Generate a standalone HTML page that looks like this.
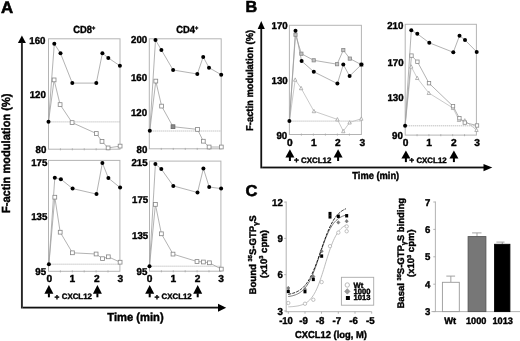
<!DOCTYPE html>
<html><head><meta charset="utf-8"><style>
html,body{margin:0;padding:0;background:#fff;}
svg{display:block;will-change:transform;}
text{font-family:"Liberation Sans", sans-serif;font-weight:bold;fill:#000;stroke:#000;stroke-width:0.4px;text-rendering:geometricPrecision;}
</style></head><body>
<svg width="520" height="341" viewBox="0 0 520 341">
<rect width="520" height="341" fill="#fff"/>
<text transform="translate(0.90,12.55) scale(1.02,1.01)" font-size="16.5" text-anchor="start" style="stroke-width:0.6px">A</text>
<text transform="translate(9.90,153.25) rotate(-90) scale(1.0,1.06)" font-size="11.1" text-anchor="middle">F-actin modulation (%)</text>
<polygon points="21.9,35.4 17.9,42.9 25.9,42.9" fill="#000"/>
<rect x="20.95" y="42.50" width="1.90" height="266.00" fill="#262626" stroke="none" stroke-width="1"/>
<rect x="22.85" y="306.70" width="196.15" height="1.80" fill="#111" stroke="none" stroke-width="1"/>
<polygon points="226.2,307.7 218.0,303.7 218.0,311.7" fill="#000"/>
<text transform="translate(107.30,320.60) scale(1.0,1.04)" font-size="11.2" text-anchor="start" >Time (min)</text>
<line x1="48.50" y1="121.90" x2="120.00" y2="121.90" stroke="#a8a8a8" stroke-width="0.9" stroke-dasharray="1.1,0.9"/>
<rect x="48.50" y="38.80" width="71.50" height="110.40" fill="none" stroke="#b4b4b4" stroke-width="1"/>
<line x1="60.42" y1="148.30" x2="60.42" y2="150.30" stroke="#aaa" stroke-width="0.9" />
<line x1="72.33" y1="148.30" x2="72.33" y2="150.30" stroke="#aaa" stroke-width="0.9" />
<line x1="84.25" y1="148.30" x2="84.25" y2="150.30" stroke="#aaa" stroke-width="0.9" />
<line x1="96.17" y1="148.30" x2="96.17" y2="150.30" stroke="#aaa" stroke-width="0.9" />
<line x1="108.08" y1="148.30" x2="108.08" y2="150.30" stroke="#aaa" stroke-width="0.9" />
<text transform="translate(45.50,43.74) scale(0.97,1.0)" font-size="10.0" text-anchor="end" >160</text>
<text transform="translate(45.90,98.44) scale(0.97,1.0)" font-size="10.0" text-anchor="end" >120</text>
<text transform="translate(46.30,153.04) scale(0.97,1.0)" font-size="10.0" text-anchor="end" >80</text>
<polyline points="48.50,121.70 54.10,79.90 60.10,104.60 72.10,122.60 96.30,133.50 102.00,141.40 108.10,147.90 120.10,146.10" fill="none" stroke="#a0a0a0" stroke-width="0.8" stroke-linejoin="round" />
<polyline points="48.50,121.70 54.30,43.80 60.50,53.30 72.30,83.10 96.30,83.10 102.40,53.20 108.30,57.90 119.90,65.80" fill="none" stroke="#a0a0a0" stroke-width="0.8" stroke-linejoin="round" />
<rect x="52.20" y="78.00" width="3.8" height="3.8" fill="#fff" stroke="#858585" stroke-width="0.8"/>
<rect x="58.20" y="102.70" width="3.8" height="3.8" fill="#fff" stroke="#858585" stroke-width="0.8"/>
<rect x="70.20" y="120.70" width="3.8" height="3.8" fill="#fff" stroke="#858585" stroke-width="0.8"/>
<rect x="94.40" y="131.60" width="3.8" height="3.8" fill="#fff" stroke="#858585" stroke-width="0.8"/>
<rect x="100.10" y="139.50" width="3.8" height="3.8" fill="#fff" stroke="#858585" stroke-width="0.8"/>
<rect x="106.20" y="146.00" width="3.8" height="3.8" fill="#fff" stroke="#858585" stroke-width="0.8"/>
<rect x="118.20" y="144.20" width="3.8" height="3.8" fill="#fff" stroke="#858585" stroke-width="0.8"/>
<circle cx="48.50" cy="121.70" r="2.0" fill="#000"/>
<circle cx="54.30" cy="43.80" r="2.0" fill="#000"/>
<circle cx="60.50" cy="53.30" r="2.0" fill="#000"/>
<circle cx="72.30" cy="83.10" r="2.0" fill="#000"/>
<circle cx="96.30" cy="83.10" r="2.0" fill="#000"/>
<circle cx="102.40" cy="53.20" r="2.0" fill="#000"/>
<circle cx="108.30" cy="57.90" r="2.0" fill="#000"/>
<circle cx="119.90" cy="65.80" r="2.0" fill="#000"/>
<line x1="149.30" y1="131.00" x2="221.20" y2="131.00" stroke="#a8a8a8" stroke-width="0.9" stroke-dasharray="1.1,0.9"/>
<rect x="149.30" y="38.80" width="71.90" height="110.00" fill="none" stroke="#b4b4b4" stroke-width="1"/>
<line x1="161.28" y1="147.90" x2="161.28" y2="149.90" stroke="#aaa" stroke-width="0.9" />
<line x1="173.27" y1="147.90" x2="173.27" y2="149.90" stroke="#aaa" stroke-width="0.9" />
<line x1="185.25" y1="147.90" x2="185.25" y2="149.90" stroke="#aaa" stroke-width="0.9" />
<line x1="197.23" y1="147.90" x2="197.23" y2="149.90" stroke="#aaa" stroke-width="0.9" />
<line x1="209.22" y1="147.90" x2="209.22" y2="149.90" stroke="#aaa" stroke-width="0.9" />
<text transform="translate(147.20,43.44) scale(0.97,1.0)" font-size="10.0" text-anchor="end" >200</text>
<text transform="translate(147.10,80.64) scale(0.97,1.0)" font-size="10.0" text-anchor="end" >160</text>
<text transform="translate(147.10,116.04) scale(0.97,1.0)" font-size="10.0" text-anchor="end" >120</text>
<text transform="translate(147.40,153.04) scale(0.97,1.0)" font-size="10.0" text-anchor="end" >80</text>
<polyline points="149.80,130.70 155.80,81.10 161.60,106.10 173.00,126.70 197.50,129.40 203.30,141.20 209.10,147.00 221.30,147.00" fill="none" stroke="#a0a0a0" stroke-width="0.8" stroke-linejoin="round" />
<polyline points="149.80,130.70 155.50,40.00 161.40,50.00 173.10,70.00 197.30,74.00 203.20,56.90 209.00,67.70 221.20,74.70" fill="none" stroke="#a0a0a0" stroke-width="0.8" stroke-linejoin="round" />
<rect x="153.90" y="79.20" width="3.8" height="3.8" fill="#fff" stroke="#858585" stroke-width="0.8"/>
<rect x="159.70" y="104.20" width="3.8" height="3.8" fill="#fff" stroke="#858585" stroke-width="0.8"/>
<rect x="171.10" y="124.80" width="3.8" height="3.8" fill="#8a8a8a" stroke="#666" stroke-width="0.8"/>
<rect x="195.60" y="127.50" width="3.8" height="3.8" fill="#fff" stroke="#858585" stroke-width="0.8"/>
<rect x="201.40" y="139.30" width="3.8" height="3.8" fill="#fff" stroke="#858585" stroke-width="0.8"/>
<rect x="207.20" y="145.10" width="3.8" height="3.8" fill="#fff" stroke="#858585" stroke-width="0.8"/>
<rect x="219.40" y="145.10" width="3.8" height="3.8" fill="#fff" stroke="#858585" stroke-width="0.8"/>
<circle cx="149.80" cy="130.70" r="2.0" fill="#000"/>
<circle cx="155.50" cy="40.00" r="2.0" fill="#000"/>
<circle cx="161.40" cy="50.00" r="2.0" fill="#000"/>
<circle cx="173.10" cy="70.00" r="2.0" fill="#000"/>
<circle cx="197.30" cy="74.00" r="2.0" fill="#000"/>
<circle cx="203.20" cy="56.90" r="2.0" fill="#000"/>
<circle cx="209.00" cy="67.70" r="2.0" fill="#000"/>
<circle cx="221.20" cy="74.70" r="2.0" fill="#000"/>
<line x1="48.50" y1="264.20" x2="119.90" y2="264.20" stroke="#a8a8a8" stroke-width="0.9" stroke-dasharray="1.1,0.9"/>
<rect x="48.50" y="160.40" width="71.40" height="110.90" fill="none" stroke="#b4b4b4" stroke-width="1"/>
<line x1="60.40" y1="270.40" x2="60.40" y2="272.40" stroke="#aaa" stroke-width="0.9" />
<line x1="72.30" y1="270.40" x2="72.30" y2="272.40" stroke="#aaa" stroke-width="0.9" />
<line x1="84.20" y1="270.40" x2="84.20" y2="272.40" stroke="#aaa" stroke-width="0.9" />
<line x1="96.10" y1="270.40" x2="96.10" y2="272.40" stroke="#aaa" stroke-width="0.9" />
<line x1="108.00" y1="270.40" x2="108.00" y2="272.40" stroke="#aaa" stroke-width="0.9" />
<text transform="translate(47.40,165.74) scale(0.97,1.0)" font-size="10.0" text-anchor="end" >175</text>
<text transform="translate(47.40,219.74) scale(0.97,1.0)" font-size="10.0" text-anchor="end" >135</text>
<text transform="translate(46.10,275.14) scale(0.97,1.0)" font-size="10.0" text-anchor="end" >95</text>
<polyline points="48.90,264.20 54.80,197.20 60.20,232.20 72.40,252.80 96.10,254.00 102.50,258.70 108.30,256.80 120.10,262.20" fill="none" stroke="#a0a0a0" stroke-width="0.8" stroke-linejoin="round" />
<polyline points="48.90,264.20 54.80,177.70 60.90,179.20 72.60,188.60 96.50,194.10 102.40,162.90 108.40,178.10 120.10,187.60" fill="none" stroke="#a0a0a0" stroke-width="0.8" stroke-linejoin="round" />
<rect x="52.90" y="195.30" width="3.8" height="3.8" fill="#fff" stroke="#858585" stroke-width="0.8"/>
<rect x="58.30" y="230.30" width="3.8" height="3.8" fill="#fff" stroke="#858585" stroke-width="0.8"/>
<rect x="70.50" y="250.90" width="3.8" height="3.8" fill="#fff" stroke="#858585" stroke-width="0.8"/>
<rect x="94.20" y="252.10" width="3.8" height="3.8" fill="#fff" stroke="#858585" stroke-width="0.8"/>
<rect x="100.60" y="256.80" width="3.8" height="3.8" fill="#fff" stroke="#858585" stroke-width="0.8"/>
<rect x="106.40" y="254.90" width="3.8" height="3.8" fill="#fff" stroke="#858585" stroke-width="0.8"/>
<rect x="118.20" y="260.30" width="3.8" height="3.8" fill="#fff" stroke="#858585" stroke-width="0.8"/>
<circle cx="48.90" cy="264.20" r="2.0" fill="#000"/>
<circle cx="54.80" cy="177.70" r="2.0" fill="#000"/>
<circle cx="60.90" cy="179.20" r="2.0" fill="#000"/>
<circle cx="72.60" cy="188.60" r="2.0" fill="#000"/>
<circle cx="96.50" cy="194.10" r="2.0" fill="#000"/>
<circle cx="102.40" cy="162.90" r="2.0" fill="#000"/>
<circle cx="108.40" cy="178.10" r="2.0" fill="#000"/>
<circle cx="120.10" cy="187.60" r="2.0" fill="#000"/>
<line x1="149.50" y1="266.20" x2="220.90" y2="266.20" stroke="#a8a8a8" stroke-width="0.9" stroke-dasharray="1.1,0.9"/>
<rect x="149.50" y="161.10" width="71.40" height="110.10" fill="none" stroke="#b4b4b4" stroke-width="1"/>
<line x1="161.40" y1="270.30" x2="161.40" y2="272.30" stroke="#aaa" stroke-width="0.9" />
<line x1="173.30" y1="270.30" x2="173.30" y2="272.30" stroke="#aaa" stroke-width="0.9" />
<line x1="185.20" y1="270.30" x2="185.20" y2="272.30" stroke="#aaa" stroke-width="0.9" />
<line x1="197.10" y1="270.30" x2="197.10" y2="272.30" stroke="#aaa" stroke-width="0.9" />
<line x1="209.00" y1="270.30" x2="209.00" y2="272.30" stroke="#aaa" stroke-width="0.9" />
<text transform="translate(147.60,165.54) scale(0.97,1.0)" font-size="10.0" text-anchor="end" >215</text>
<text transform="translate(148.20,202.64) scale(0.97,1.0)" font-size="10.0" text-anchor="end" >175</text>
<text transform="translate(148.20,238.74) scale(0.97,1.0)" font-size="10.0" text-anchor="end" >135</text>
<text transform="translate(147.40,275.34) scale(0.97,1.0)" font-size="10.0" text-anchor="end" >95</text>
<polyline points="149.50,266.20 155.40,204.40 161.40,233.80 173.00,254.10 197.00,261.50 203.40,262.00 209.40,262.80 221.30,269.10" fill="none" stroke="#a0a0a0" stroke-width="0.8" stroke-linejoin="round" />
<polyline points="149.50,266.20 155.40,164.00 161.30,169.10 173.30,185.90 197.50,192.50 203.40,168.50 209.20,187.00 221.10,188.60" fill="none" stroke="#a0a0a0" stroke-width="0.8" stroke-linejoin="round" />
<rect x="153.50" y="202.50" width="3.8" height="3.8" fill="#fff" stroke="#858585" stroke-width="0.8"/>
<rect x="159.50" y="231.90" width="3.8" height="3.8" fill="#fff" stroke="#858585" stroke-width="0.8"/>
<rect x="171.10" y="252.20" width="3.8" height="3.8" fill="#fff" stroke="#858585" stroke-width="0.8"/>
<rect x="195.10" y="259.60" width="3.8" height="3.8" fill="#fff" stroke="#858585" stroke-width="0.8"/>
<rect x="201.50" y="260.10" width="3.8" height="3.8" fill="#fff" stroke="#858585" stroke-width="0.8"/>
<rect x="207.50" y="260.90" width="3.8" height="3.8" fill="#fff" stroke="#858585" stroke-width="0.8"/>
<rect x="219.40" y="267.20" width="3.8" height="3.8" fill="#fff" stroke="#858585" stroke-width="0.8"/>
<circle cx="149.50" cy="266.20" r="2.0" fill="#000"/>
<circle cx="155.40" cy="164.00" r="2.0" fill="#000"/>
<circle cx="161.30" cy="169.10" r="2.0" fill="#000"/>
<circle cx="173.30" cy="185.90" r="2.0" fill="#000"/>
<circle cx="197.50" cy="192.50" r="2.0" fill="#000"/>
<circle cx="203.40" cy="168.50" r="2.0" fill="#000"/>
<circle cx="209.20" cy="187.00" r="2.0" fill="#000"/>
<circle cx="221.10" cy="188.60" r="2.0" fill="#000"/>
<text transform="translate(73.20,33.10) scale(0.91,1.0)" font-size="10.3" text-anchor="start" >CD8<tspan font-size="6.2" dy="-3.5">+</tspan></text>
<text transform="translate(176.30,33.10) scale(0.91,1.0)" font-size="10.3" text-anchor="start" >CD4<tspan font-size="6.2" dy="-3.5">+</tspan></text>
<text transform="translate(49.30,281.66) scale(1.0,1.0)" font-size="10.2" text-anchor="middle" >0</text>
<text transform="translate(72.40,281.66) scale(1.0,1.0)" font-size="10.2" text-anchor="middle" >1</text>
<text transform="translate(96.80,281.66) scale(1.0,1.0)" font-size="10.2" text-anchor="middle" >2</text>
<text transform="translate(120.30,281.66) scale(1.0,1.0)" font-size="10.2" text-anchor="middle" >3</text>
<text transform="translate(149.70,281.66) scale(1.0,1.0)" font-size="10.2" text-anchor="middle" >0</text>
<text transform="translate(173.40,281.66) scale(1.0,1.0)" font-size="10.2" text-anchor="middle" >1</text>
<text transform="translate(197.50,281.66) scale(1.0,1.0)" font-size="10.2" text-anchor="middle" >2</text>
<text transform="translate(221.10,281.66) scale(1.0,1.0)" font-size="10.2" text-anchor="middle" >3</text>
<polygon points="48.90,285.00 44.40,293.80 53.40,293.80" fill="#000"/>
<rect x="47.90" y="293.30" width="2.00" height="4.00" fill="#000" stroke="none" stroke-width="1"/>
<polygon points="97.40,285.00 92.90,293.80 101.90,293.80" fill="#000"/>
<rect x="96.40" y="293.30" width="2.00" height="4.00" fill="#000" stroke="none" stroke-width="1"/>
<text transform="translate(56.90,299.67) scale(1.0,1.0)" font-size="8.4" text-anchor="middle" >+</text>
<text transform="translate(61.70,299.00) scale(1.0,1.0)" font-size="7.9" text-anchor="start" >CXCL12</text>
<polygon points="149.70,285.00 145.20,293.80 154.20,293.80" fill="#000"/>
<rect x="148.70" y="293.30" width="2.00" height="4.00" fill="#000" stroke="none" stroke-width="1"/>
<polygon points="197.70,285.00 193.20,293.80 202.20,293.80" fill="#000"/>
<rect x="196.70" y="293.30" width="2.00" height="4.00" fill="#000" stroke="none" stroke-width="1"/>
<text transform="translate(156.90,299.67) scale(1.0,1.0)" font-size="8.4" text-anchor="middle" >+</text>
<text transform="translate(161.50,299.00) scale(1.0,1.0)" font-size="7.9" text-anchor="start" >CXCL12</text>
<text transform="translate(245.40,12.40) scale(0.98,0.97)" font-size="16.5" text-anchor="start" style="stroke-width:0.6px">B</text>
<text transform="translate(253.30,80.40) rotate(-90) scale(1.0,1.06)" font-size="9.4" text-anchor="middle">F-actin modulation (%)</text>
<polygon points="261.25,20.9 257.7,29 264.8,29" fill="#000"/>
<rect x="260.35" y="28.50" width="1.80" height="139.90" fill="#111" stroke="none" stroke-width="1"/>
<rect x="262.15" y="166.60" width="221.85" height="1.80" fill="#111" stroke="none" stroke-width="1"/>
<polygon points="492.3,167.6 483.5,163.9 483.5,171.3" fill="#000"/>
<text transform="translate(352.30,179.30) scale(0.98,1.06)" font-size="9.5" text-anchor="start" >Time (min)</text>
<line x1="289.40" y1="121.10" x2="361.40" y2="121.10" stroke="#a8a8a8" stroke-width="0.9" stroke-dasharray="1.1,0.9"/>
<rect x="289.40" y="25.30" width="72.00" height="109.20" fill="none" stroke="#b4b4b4" stroke-width="1"/>
<line x1="301.40" y1="133.60" x2="301.40" y2="135.60" stroke="#aaa" stroke-width="0.9" />
<line x1="313.40" y1="133.60" x2="313.40" y2="135.60" stroke="#aaa" stroke-width="0.9" />
<line x1="325.40" y1="133.60" x2="325.40" y2="135.60" stroke="#aaa" stroke-width="0.9" />
<line x1="337.40" y1="133.60" x2="337.40" y2="135.60" stroke="#aaa" stroke-width="0.9" />
<line x1="349.40" y1="133.60" x2="349.40" y2="135.60" stroke="#aaa" stroke-width="0.9" />
<text transform="translate(287.70,29.14) scale(0.97,1.0)" font-size="10.0" text-anchor="end" >170</text>
<text transform="translate(287.70,83.94) scale(0.97,1.0)" font-size="10.0" text-anchor="end" >130</text>
<text transform="translate(287.20,138.54) scale(0.97,1.0)" font-size="10.0" text-anchor="end" >90</text>
<polyline points="289.40,121.10 295.20,79.70 301.10,88.20 313.90,111.20 337.40,119.40 343.30,131.20 349.60,122.50 361.30,118.70" fill="none" stroke="#bdbdbd" stroke-width="0.8" stroke-linejoin="round" />
<polyline points="289.40,121.10 295.50,34.70 301.40,53.70 313.70,60.30 337.10,64.20 343.30,50.10 349.80,58.60 361.40,64.70" fill="none" stroke="#a0a0a0" stroke-width="0.8" stroke-linejoin="round" />
<polyline points="289.40,121.10 295.50,30.80 301.60,61.00 313.80,71.80 337.40,83.60 343.30,64.50 349.60,76.10 361.40,64.60" fill="none" stroke="#a0a0a0" stroke-width="0.8" stroke-linejoin="round" />
<polygon points="295.20,77.87 293.50,81.23 296.90,81.23" fill="#fff" stroke="#9a9a9a" stroke-width="0.7"/>
<polygon points="301.10,86.37 299.40,89.73 302.80,89.73" fill="#fff" stroke="#9a9a9a" stroke-width="0.7"/>
<polygon points="313.90,109.37 312.20,112.73 315.60,112.73" fill="#fff" stroke="#9a9a9a" stroke-width="0.7"/>
<polygon points="337.40,117.57 335.70,120.93 339.10,120.93" fill="#fff" stroke="#9a9a9a" stroke-width="0.7"/>
<polygon points="343.30,129.37 341.60,132.73 345.00,132.73" fill="#fff" stroke="#9a9a9a" stroke-width="0.7"/>
<polygon points="349.60,120.67 347.90,124.03 351.30,124.03" fill="#fff" stroke="#9a9a9a" stroke-width="0.7"/>
<polygon points="361.30,116.87 359.60,120.23 363.00,120.23" fill="#fff" stroke="#9a9a9a" stroke-width="0.7"/>
<rect x="293.90" y="33.10" width="3.2" height="3.2" fill="#c4c4c4" stroke="#888" stroke-width="0.8"/>
<rect x="299.80" y="52.10" width="3.2" height="3.2" fill="#c4c4c4" stroke="#888" stroke-width="0.8"/>
<rect x="312.10" y="58.70" width="3.2" height="3.2" fill="#c4c4c4" stroke="#888" stroke-width="0.8"/>
<rect x="335.50" y="62.60" width="3.2" height="3.2" fill="#c4c4c4" stroke="#888" stroke-width="0.8"/>
<rect x="341.70" y="48.50" width="3.2" height="3.2" fill="#c4c4c4" stroke="#888" stroke-width="0.8"/>
<rect x="348.20" y="57.00" width="3.2" height="3.2" fill="#c4c4c4" stroke="#888" stroke-width="0.8"/>
<rect x="359.80" y="63.10" width="3.2" height="3.2" fill="#c4c4c4" stroke="#888" stroke-width="0.8"/>
<circle cx="295.50" cy="30.80" r="2.0" fill="#000"/>
<circle cx="301.60" cy="61.00" r="2.0" fill="#000"/>
<circle cx="313.80" cy="71.80" r="2.0" fill="#000"/>
<circle cx="337.40" cy="83.60" r="2.0" fill="#000"/>
<circle cx="343.30" cy="64.50" r="2.0" fill="#000"/>
<circle cx="349.60" cy="76.10" r="2.0" fill="#000"/>
<circle cx="361.40" cy="64.60" r="2.0" fill="#000"/>
<circle cx="289.40" cy="121.10" r="2.0" fill="#000"/>
<line x1="405.20" y1="125.80" x2="476.40" y2="125.80" stroke="#a8a8a8" stroke-width="0.9" stroke-dasharray="1.1,0.9"/>
<rect x="405.20" y="24.30" width="71.20" height="110.80" fill="none" stroke="#b4b4b4" stroke-width="1"/>
<line x1="417.07" y1="134.20" x2="417.07" y2="136.20" stroke="#aaa" stroke-width="0.9" />
<line x1="428.93" y1="134.20" x2="428.93" y2="136.20" stroke="#aaa" stroke-width="0.9" />
<line x1="440.80" y1="134.20" x2="440.80" y2="136.20" stroke="#aaa" stroke-width="0.9" />
<line x1="452.67" y1="134.20" x2="452.67" y2="136.20" stroke="#aaa" stroke-width="0.9" />
<line x1="464.53" y1="134.20" x2="464.53" y2="136.20" stroke="#aaa" stroke-width="0.9" />
<text transform="translate(403.40,28.84) scale(0.97,1.0)" font-size="10.0" text-anchor="end" >210</text>
<text transform="translate(403.60,65.54) scale(0.97,1.0)" font-size="10.0" text-anchor="end" >170</text>
<text transform="translate(403.60,101.34) scale(0.97,1.0)" font-size="10.0" text-anchor="end" >130</text>
<text transform="translate(402.80,138.74) scale(0.97,1.0)" font-size="10.0" text-anchor="end" >90</text>
<polyline points="405.10,125.70 411.20,66.60 417.20,78.00 428.80,93.00 453.00,108.00 459.00,120.00 464.80,120.50 476.50,130.00" fill="none" stroke="#bdbdbd" stroke-width="0.8" stroke-linejoin="round" />
<polyline points="405.10,125.70 411.50,55.60 417.40,61.70 429.00,83.20 453.00,106.20 459.40,118.20 464.80,122.60 477.00,125.50" fill="none" stroke="#a0a0a0" stroke-width="0.8" stroke-linejoin="round" />
<polyline points="405.10,125.70 411.30,30.30 417.30,33.80 429.30,42.80 453.30,52.30 459.50,35.70 465.00,40.00 476.70,51.90" fill="none" stroke="#a0a0a0" stroke-width="0.8" stroke-linejoin="round" />
<polygon points="411.20,64.77 409.50,68.13 412.90,68.13" fill="#fff" stroke="#9a9a9a" stroke-width="0.7"/>
<polygon points="417.20,76.17 415.50,79.53 418.90,79.53" fill="#fff" stroke="#9a9a9a" stroke-width="0.7"/>
<polygon points="428.80,91.17 427.10,94.53 430.50,94.53" fill="#fff" stroke="#9a9a9a" stroke-width="0.7"/>
<polygon points="453.00,106.17 451.30,109.53 454.70,109.53" fill="#fff" stroke="#9a9a9a" stroke-width="0.7"/>
<polygon points="459.00,118.17 457.30,121.53 460.70,121.53" fill="#fff" stroke="#9a9a9a" stroke-width="0.7"/>
<polygon points="464.80,118.67 463.10,122.03 466.50,122.03" fill="#fff" stroke="#9a9a9a" stroke-width="0.7"/>
<polygon points="476.50,128.17 474.80,131.53 478.20,131.53" fill="#fff" stroke="#9a9a9a" stroke-width="0.7"/>
<rect x="409.80" y="53.90" width="3.4" height="3.4" fill="#fff" stroke="#8a8a8a" stroke-width="0.8"/>
<rect x="415.70" y="60.00" width="3.4" height="3.4" fill="#fff" stroke="#8a8a8a" stroke-width="0.8"/>
<rect x="427.30" y="81.50" width="3.4" height="3.4" fill="#fff" stroke="#8a8a8a" stroke-width="0.8"/>
<rect x="451.30" y="104.50" width="3.4" height="3.4" fill="#fff" stroke="#8a8a8a" stroke-width="0.8"/>
<rect x="457.70" y="116.50" width="3.4" height="3.4" fill="#fff" stroke="#8a8a8a" stroke-width="0.8"/>
<rect x="463.10" y="120.90" width="3.4" height="3.4" fill="#fff" stroke="#8a8a8a" stroke-width="0.8"/>
<rect x="475.30" y="123.80" width="3.4" height="3.4" fill="#fff" stroke="#8a8a8a" stroke-width="0.8"/>
<circle cx="411.30" cy="30.30" r="2.0" fill="#000"/>
<circle cx="417.30" cy="33.80" r="2.0" fill="#000"/>
<circle cx="429.30" cy="42.80" r="2.0" fill="#000"/>
<circle cx="453.30" cy="52.30" r="2.0" fill="#000"/>
<circle cx="459.50" cy="35.70" r="2.0" fill="#000"/>
<circle cx="465.00" cy="40.00" r="2.0" fill="#000"/>
<circle cx="476.70" cy="51.90" r="2.0" fill="#000"/>
<circle cx="405.10" cy="125.70" r="2.0" fill="#000"/>
<text transform="translate(289.90,145.51) scale(1.0,1.0)" font-size="10.2" text-anchor="middle" >0</text>
<text transform="translate(313.90,145.51) scale(1.0,1.0)" font-size="10.2" text-anchor="middle" >1</text>
<text transform="translate(337.80,145.51) scale(1.0,1.0)" font-size="10.2" text-anchor="middle" >2</text>
<text transform="translate(362.30,145.51) scale(1.0,1.0)" font-size="10.2" text-anchor="middle" >3</text>
<text transform="translate(405.50,146.11) scale(1.0,1.0)" font-size="10.2" text-anchor="middle" >0</text>
<text transform="translate(429.00,146.11) scale(1.0,1.0)" font-size="10.2" text-anchor="middle" >1</text>
<text transform="translate(453.80,146.11) scale(1.0,1.0)" font-size="10.2" text-anchor="middle" >2</text>
<text transform="translate(477.20,146.11) scale(1.0,1.0)" font-size="10.2" text-anchor="middle" >3</text>
<polygon points="289.90,149.30 285.40,157.40 294.40,157.40" fill="#000"/>
<rect x="288.90" y="156.90" width="2.00" height="4.10" fill="#000" stroke="none" stroke-width="1"/>
<polygon points="338.10,149.30 333.60,157.40 342.60,157.40" fill="#000"/>
<rect x="337.10" y="156.90" width="2.00" height="4.10" fill="#000" stroke="none" stroke-width="1"/>
<text transform="translate(296.50,163.47) scale(1.0,1.0)" font-size="8.4" text-anchor="middle" >+</text>
<text transform="translate(301.10,162.70) scale(1.0,1.0)" font-size="7.9" text-anchor="start" >CXCL12</text>
<polygon points="405.90,150.40 401.40,158.50 410.40,158.50" fill="#000"/>
<rect x="404.90" y="158.00" width="2.00" height="4.10" fill="#000" stroke="none" stroke-width="1"/>
<polygon points="453.90,150.40 449.40,158.50 458.40,158.50" fill="#000"/>
<rect x="452.90" y="158.00" width="2.00" height="4.10" fill="#000" stroke="none" stroke-width="1"/>
<text transform="translate(411.70,163.47) scale(1.0,1.0)" font-size="8.4" text-anchor="middle" >+</text>
<text transform="translate(416.40,162.70) scale(1.0,1.0)" font-size="7.9" text-anchor="start" >CXCL12</text>
<text transform="translate(245.40,195.80) scale(1.0,0.96)" font-size="16.5" text-anchor="start" style="stroke-width:0.6px">C</text>
<line x1="286.20" y1="201.50" x2="286.20" y2="312.20" stroke="#aaa" stroke-width="0.9" />
<line x1="285.70" y1="311.70" x2="371.70" y2="311.70" stroke="#aaa" stroke-width="0.9" />
<line x1="284.20" y1="202.10" x2="286.20" y2="202.10" stroke="#aaa" stroke-width="0.9" />
<text transform="translate(282.80,205.64) scale(0.97,1.0)" font-size="10.0" text-anchor="end" >12</text>
<line x1="284.20" y1="238.40" x2="286.20" y2="238.40" stroke="#aaa" stroke-width="0.9" />
<text transform="translate(282.80,242.04) scale(0.97,1.0)" font-size="10.0" text-anchor="end" >9</text>
<line x1="284.20" y1="274.70" x2="286.20" y2="274.70" stroke="#aaa" stroke-width="0.9" />
<text transform="translate(282.80,277.94) scale(0.97,1.0)" font-size="10.0" text-anchor="end" >6</text>
<line x1="284.20" y1="311.00" x2="286.20" y2="311.00" stroke="#aaa" stroke-width="0.9" />
<text transform="translate(282.80,314.94) scale(0.97,1.0)" font-size="10.0" text-anchor="end" >3</text>
<line x1="288.30" y1="311.70" x2="288.30" y2="313.70" stroke="#aaa" stroke-width="0.9" />
<text transform="translate(286.00,324.44) scale(0.95,1.0)" font-size="10.0" text-anchor="middle" >-10</text>
<line x1="305.00" y1="311.70" x2="305.00" y2="313.70" stroke="#aaa" stroke-width="0.9" />
<text transform="translate(303.60,324.44) scale(0.97,1.0)" font-size="10.0" text-anchor="middle" >-9</text>
<line x1="321.50" y1="311.70" x2="321.50" y2="313.70" stroke="#aaa" stroke-width="0.9" />
<text transform="translate(320.10,324.44) scale(0.97,1.0)" font-size="10.0" text-anchor="middle" >-8</text>
<line x1="338.30" y1="311.70" x2="338.30" y2="313.70" stroke="#aaa" stroke-width="0.9" />
<text transform="translate(336.90,324.44) scale(0.97,1.0)" font-size="10.0" text-anchor="middle" >-7</text>
<line x1="355.00" y1="311.70" x2="355.00" y2="313.70" stroke="#aaa" stroke-width="0.9" />
<text transform="translate(353.60,324.44) scale(0.97,1.0)" font-size="10.0" text-anchor="middle" >-6</text>
<line x1="371.70" y1="311.70" x2="371.70" y2="313.70" stroke="#aaa" stroke-width="0.9" />
<text transform="translate(370.30,324.44) scale(0.97,1.0)" font-size="10.0" text-anchor="middle" >-5</text>
<text transform="translate(295.00,338.10) scale(1.0,1.06)" font-size="9.4" text-anchor="start" >CXCL12 (log, M)</text>
<text transform="translate(255.80,254.90) rotate(-90) scale(1.0,1.0)" font-size="9.6" text-anchor="middle">Bound <tspan font-size="5.7" dy="-3.4">35</tspan><tspan dy="3.4">S-GTP</tspan><tspan font-size="7.2" dy="1.8">γ</tspan><tspan dy="-1.8">S</tspan></text>
<text transform="translate(266.60,254.00) rotate(-90) scale(1.0,1.0)" font-size="9.6" text-anchor="middle">(x10<tspan font-size="5.7" dy="-3.4">3</tspan><tspan dy="3.4"> cpm)</tspan></text>
<polyline points="288.30,306.86 289.12,306.82 289.94,306.78 290.77,306.73 291.59,306.67 292.41,306.61 293.23,306.54 294.05,306.45 294.88,306.36 295.70,306.25 296.52,306.13 297.34,306.00 298.17,305.85 298.99,305.67 299.81,305.48 300.63,305.25 301.45,305.00 302.28,304.72 303.10,304.41 303.92,304.05 304.74,303.65 305.56,303.19 306.39,302.69 307.21,302.12 308.03,301.49 308.85,300.78 309.67,299.99 310.50,299.12 311.32,298.14 312.14,297.07 312.96,295.89 313.78,294.59 314.61,293.17 315.43,291.63 316.25,289.96 317.07,288.15 317.90,286.22 318.72,284.15 319.54,281.96 320.36,279.65 321.18,277.24 322.01,274.74 322.83,272.15 323.65,269.51 324.47,266.83 325.29,264.12 326.12,261.42 326.94,258.75 327.76,256.12 328.58,253.55 329.40,251.07 330.23,248.68 331.05,246.40 331.87,244.24 332.69,242.20 333.51,240.30 334.34,238.52 335.16,236.88 335.98,235.37 336.80,233.98 337.63,232.71 338.45,231.55 339.27,230.51 340.09,229.56 340.91,228.70 341.74,227.94 342.56,227.25 343.38,226.63 344.20,226.08 345.02,225.58 345.85,225.14" fill="none" stroke="#b4b4b4" stroke-width="0.9" stroke-linejoin="round" />
<polyline points="288.30,296.54 289.12,296.42 289.94,296.28 290.77,296.13 291.59,295.96 292.41,295.77 293.23,295.55 294.05,295.32 294.88,295.05 295.70,294.75 296.52,294.42 297.34,294.05 298.17,293.64 298.99,293.19 299.81,292.68 300.63,292.12 301.45,291.50 302.28,290.82 303.10,290.06 303.92,289.23 304.74,288.32 305.56,287.32 306.39,286.23 307.21,285.05 308.03,283.76 308.85,282.37 309.67,280.87 310.50,279.26 311.32,277.54 312.14,275.71 312.96,273.78 313.78,271.75 314.61,269.62 315.43,267.41 316.25,265.12 317.07,262.78 317.90,260.38 318.72,257.95 319.54,255.50 320.36,253.05 321.18,250.61 322.01,248.21 322.83,245.85 323.65,243.55 324.47,241.33 325.29,239.19 326.12,237.14 326.94,235.19 327.76,233.34 328.58,231.61 329.40,229.98 330.23,228.46 331.05,227.05 331.87,225.75 332.69,224.54 333.51,223.44 334.34,222.42 335.16,221.50 335.98,220.65 336.80,219.89 337.63,219.19 338.45,218.56 339.27,217.99 340.09,217.48 340.91,217.01 341.74,216.60 342.56,216.22 343.38,215.88 344.20,215.58 345.02,215.31 345.85,215.07" fill="none" stroke="#707070" stroke-width="1.0" stroke-linejoin="round" />
<polyline points="288.30,294.28 289.12,294.13 289.94,293.98 290.77,293.80 291.59,293.60 292.41,293.39 293.23,293.15 294.05,292.88 294.88,292.59 295.70,292.26 296.52,291.91 297.34,291.51 298.17,291.08 298.99,290.60 299.81,290.08 300.63,289.50 301.45,288.87 302.28,288.18 303.10,287.43 303.92,286.61 304.74,285.71 305.56,284.74 306.39,283.68 307.21,282.54 308.03,281.31 308.85,279.98 309.67,278.57 310.50,277.05 311.32,275.44 312.14,273.72 312.96,271.92 313.78,270.01 314.61,268.02 315.43,265.95 316.25,263.80 317.07,261.57 317.90,259.29 318.72,256.97 319.54,254.60 320.36,252.21 321.18,249.82 322.01,247.42 322.83,245.04 323.65,242.70 324.47,240.39 325.29,238.14 326.12,235.95 326.94,233.84 327.76,231.80 328.58,229.86 329.40,228.00 330.23,226.24 331.05,224.58 331.87,223.02 332.69,221.55 333.51,220.18 334.34,218.90 335.16,217.72 335.98,216.62 336.80,215.61 337.63,214.67 338.45,213.81 339.27,213.02 340.09,212.30 340.91,211.64 341.74,211.04 342.56,210.49 343.38,209.99 344.20,209.54 345.02,209.13 345.85,208.75" fill="none" stroke="#1a1a1a" stroke-width="1.0" stroke-linejoin="round" stroke-dasharray="3,1.1"/>
<circle cx="288.30" cy="303.01" r="1.7" fill="#fff" stroke="#a8a8a8" stroke-width="0.7"/>
<circle cx="304.98" cy="303.74" r="1.7" fill="#fff" stroke="#a8a8a8" stroke-width="0.7"/>
<circle cx="313.32" cy="299.75" r="1.7" fill="#fff" stroke="#a8a8a8" stroke-width="0.7"/>
<circle cx="321.66" cy="282.08" r="1.7" fill="#fff" stroke="#a8a8a8" stroke-width="0.7"/>
<circle cx="330.00" cy="246.14" r="1.7" fill="#fff" stroke="#a8a8a8" stroke-width="0.7"/>
<circle cx="338.34" cy="232.59" r="1.7" fill="#fff" stroke="#a8a8a8" stroke-width="0.7"/>
<circle cx="346.68" cy="226.42" r="1.7" fill="#fff" stroke="#a8a8a8" stroke-width="0.7"/>
<circle cx="346.68" cy="231.26" r="1.7" fill="#fff" stroke="#a8a8a8" stroke-width="0.7"/>
<polygon points="288.30,286.21 289.90,288.01 288.30,289.81 286.70,288.01" fill="#7a7a7a" stroke="#666" stroke-width="0.5"/>
<polygon points="304.98,287.42 306.58,289.22 304.98,291.02 303.38,289.22" fill="#7a7a7a" stroke="#666" stroke-width="0.5"/>
<polygon points="313.32,274.71 314.92,276.51 313.32,278.31 311.72,276.51" fill="#7a7a7a" stroke="#666" stroke-width="0.5"/>
<polygon points="321.66,249.43 323.26,251.23 321.66,253.03 320.06,251.23" fill="#7a7a7a" stroke="#666" stroke-width="0.5"/>
<polygon points="338.34,220.63 339.94,222.43 338.34,224.23 336.74,222.43" fill="#7a7a7a" stroke="#666" stroke-width="0.5"/>
<polygon points="346.68,219.42 348.28,221.22 346.68,223.02 345.08,221.22" fill="#7a7a7a" stroke="#666" stroke-width="0.5"/>
<rect x="286.80" y="289.70" width="3.00" height="3.40" fill="#000" stroke="none" stroke-width="1"/>
<rect x="303.48" y="289.94" width="3.00" height="3.40" fill="#000" stroke="none" stroke-width="1"/>
<rect x="311.82" y="277.72" width="3.00" height="3.40" fill="#000" stroke="none" stroke-width="1"/>
<rect x="320.16" y="254.37" width="3.00" height="3.40" fill="#000" stroke="none" stroke-width="1"/>
<rect x="328.50" y="211.90" width="3.00" height="3.40" fill="#000" stroke="none" stroke-width="1"/>
<rect x="328.50" y="215.16" width="3.00" height="3.40" fill="#000" stroke="none" stroke-width="1"/>
<rect x="336.84" y="214.56" width="3.00" height="3.40" fill="#000" stroke="none" stroke-width="1"/>
<rect x="345.18" y="214.07" width="3.00" height="3.40" fill="#000" stroke="none" stroke-width="1"/>
<rect x="341.40" y="277.30" width="32.30" height="27.90" fill="#fff" stroke="#aaa" stroke-width="0.9"/>
<circle cx="347.3" cy="285" r="2.2" fill="#fff" stroke="#aaa" stroke-width="0.8"/>
<polygon points="347.3,288.6 350.1,291.4 347.3,294.2 344.5,291.4" fill="#9a9a9a" stroke="#888" stroke-width="0.5"/>
<rect x="345.90" y="296.00" width="4.00" height="4.00" fill="#000" stroke="none" stroke-width="1"/>
<text transform="translate(353.60,287.69) scale(1.0,1.0)" font-size="7.6" text-anchor="start" >Wt</text>
<text transform="translate(353.60,293.99) scale(1.0,1.0)" font-size="7.6" text-anchor="start" >1000</text>
<text transform="translate(353.60,300.49) scale(1.0,1.0)" font-size="7.6" text-anchor="start" >1013</text>
<line x1="435.40" y1="201.50" x2="435.40" y2="312.00" stroke="#aaa" stroke-width="0.9" />
<line x1="431.50" y1="311.60" x2="520.00" y2="311.60" stroke="#aaa" stroke-width="0.9" />
<line x1="433.30" y1="202.00" x2="435.40" y2="202.00" stroke="#aaa" stroke-width="0.9" />
<text transform="translate(430.40,205.50) scale(0.97,1.0)" font-size="9.9" text-anchor="end" >7</text>
<line x1="433.30" y1="229.40" x2="435.40" y2="229.40" stroke="#aaa" stroke-width="0.9" />
<text transform="translate(430.40,232.90) scale(0.97,1.0)" font-size="9.9" text-anchor="end" >6</text>
<line x1="433.30" y1="256.80" x2="435.40" y2="256.80" stroke="#aaa" stroke-width="0.9" />
<text transform="translate(430.40,260.30) scale(0.97,1.0)" font-size="9.9" text-anchor="end" >5</text>
<line x1="433.30" y1="284.20" x2="435.40" y2="284.20" stroke="#aaa" stroke-width="0.9" />
<text transform="translate(430.40,287.70) scale(0.97,1.0)" font-size="9.9" text-anchor="end" >4</text>
<line x1="433.30" y1="311.60" x2="435.40" y2="311.60" stroke="#aaa" stroke-width="0.9" />
<text transform="translate(430.40,315.10) scale(0.97,1.0)" font-size="9.9" text-anchor="end" >3</text>
<line x1="450.85" y1="282.30" x2="450.85" y2="276.10" stroke="#999" stroke-width="0.9" />
<line x1="446.30" y1="276.10" x2="455.10" y2="276.10" stroke="#999" stroke-width="0.9" />
<rect x="442.40" y="282.30" width="16.90" height="29.30" fill="#fff" stroke="#999" stroke-width="0.9"/>
<line x1="477.00" y1="236.60" x2="477.00" y2="232.90" stroke="#999" stroke-width="0.9" />
<line x1="472.10" y1="232.90" x2="481.50" y2="232.90" stroke="#999" stroke-width="0.9" />
<rect x="468.10" y="236.60" width="17.80" height="75.00" fill="#777" stroke="#555" stroke-width="0.9"/>
<line x1="502.25" y1="244.30" x2="502.25" y2="242.10" stroke="#999" stroke-width="0.9" />
<line x1="496.40" y1="242.10" x2="504.50" y2="242.10" stroke="#999" stroke-width="0.9" />
<rect x="494.60" y="244.30" width="15.30" height="67.30" fill="#000" stroke="#000" stroke-width="0.9"/>
<text transform="translate(450.20,323.93) scale(1.0,1.0)" font-size="9.4" text-anchor="middle" >Wt</text>
<text transform="translate(476.20,323.93) scale(0.98,1.0)" font-size="9.4" text-anchor="middle" >1000</text>
<text transform="translate(502.70,323.93) scale(0.98,1.0)" font-size="9.4" text-anchor="middle" >1013</text>
<text transform="translate(404.30,253.20) rotate(-90) scale(1.0,1.0)" font-size="9.5" text-anchor="middle">Basal <tspan font-size="5.7" dy="-3.4">35</tspan><tspan dy="3.4">S-GTP</tspan><tspan font-size="7.2" dy="1.8">γ</tspan><tspan dy="-1.8">S binding</tspan></text>
<text transform="translate(414.40,253.20) rotate(-90) scale(1.0,1.0)" font-size="9.5" text-anchor="middle">(x10<tspan font-size="5.7" dy="-3.4">3</tspan><tspan dy="3.4"> cpm)</tspan></text>
</svg>
</body></html>
